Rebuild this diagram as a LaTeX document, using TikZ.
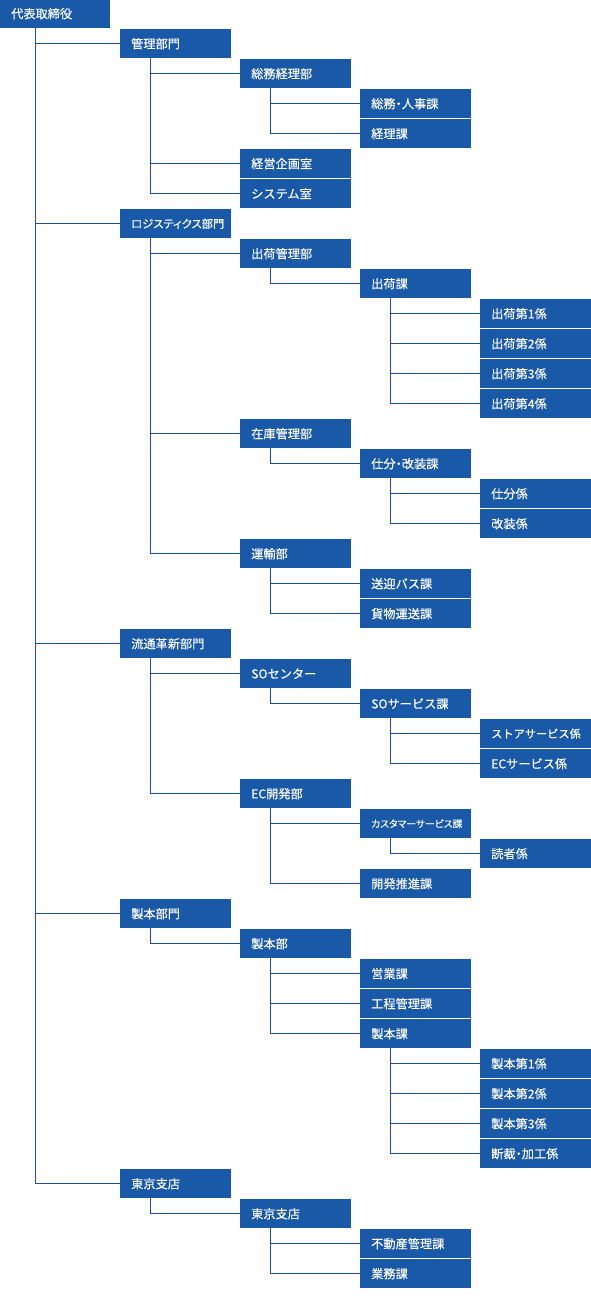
\documentclass[tikz,border=0pt]{standalone}
\usepackage{fontspec}
\newfontfamily\jpfont[FakeBold=0.35]{Noto Sans CJK JP}
\newfontfamily\jppalt[FakeBold=0.35,RawFeature=+palt]{Noto Sans CJK JP}
\definecolor{boxc}{HTML}{1A59A7}
\definecolor{linec}{HTML}{1F4F98}
\newcommand\boxtext[2][89pt]{\makebox[#1][l]{#2}}
\begin{document}
\begin{tikzpicture}[x=1pt,y=-1pt,
  box/.style={fill=boxc,text=white,anchor=north west,
    minimum width=111pt,minimum height=29pt,inner xsep=11pt,inner ysep=0pt,
    font=\jpfont\fontsize{12.2}{14}\selectfont,
    text height=9.3pt,text depth=0pt},
  boxA/.style={box,minimum width=110pt},
  smallA/.style={font=\jppalt\fontsize{11.3}{13}\selectfont,text height=8.6pt},
  smallB/.style={font=\jppalt\fontsize{9.8}{12}\selectfont,text height=7.5pt},
  smallC/.style={font=\jpfont\fontsize{11.2}{13}\selectfont,text height=8.5pt},
  conn/.style={draw=linec,line width=1pt}]
\useasboundingbox (0,0) rectangle (591,1298);
% boxes
\node[boxA] (n0) at (0,-1) {\boxtext[88pt]{代表取締役}};
\node[box] (n1) at (120,29) {\boxtext{管理部門}};
\node[box] (n2) at (240,59) {\boxtext{総務経理部}};
\node[box] (n3) at (360,89) {\boxtext{総務\kern-3pt・\kern-3pt人事課}};
\node[box] (n4) at (360,119) {\boxtext{経理課}};
\node[box] (n5) at (240,149) {\boxtext{経営企画室}};
\node[box] (n6) at (240,179) {\boxtext{システム室}};
\node[box,smallA] (n7) at (120,209) {\boxtext{ロジスティクス部門}};
\node[box] (n8) at (240,239) {\boxtext{出荷管理部}};
\node[box] (n9) at (360,269) {\boxtext{出荷課}};
\node[box] (n10) at (480,299) {\boxtext{出荷第1係}};
\node[box] (n11) at (480,329) {\boxtext{出荷第2係}};
\node[box] (n12) at (480,359) {\boxtext{出荷第3係}};
\node[box] (n13) at (480,389) {\boxtext{出荷第4係}};
\node[box] (n14) at (240,419) {\boxtext{在庫管理部}};
\node[box] (n15) at (360,449) {\boxtext{仕分\kern-3pt・\kern-3pt改装課}};
\node[box] (n16) at (480,479) {\boxtext{仕分係}};
\node[box] (n17) at (480,509) {\boxtext{改装係}};
\node[box] (n18) at (240,539) {\boxtext{運輸部}};
\node[box] (n19) at (360,569) {\boxtext{送迎バス課}};
\node[box] (n20) at (360,599) {\boxtext{貨物運送課}};
\node[box] (n21) at (120,629) {\boxtext{流通革新部門}};
\node[box] (n22) at (240,659) {\boxtext{SOセンター}};
\node[box] (n23) at (360,689) {\boxtext{SOサービス課}};
\node[box,smallC] (n24) at (480,719) {\boxtext{ストアサービス係}};
\node[box] (n25) at (480,749) {\boxtext{ECサービス係}};
\node[box] (n26) at (240,779) {\boxtext{EC開発部}};
\node[box,smallB] (n27) at (360,809) {\boxtext{カスタマーサービス課}};
\node[box] (n28) at (480,839) {\boxtext{読者係}};
\node[box] (n29) at (360,869) {\boxtext{開発推進課}};
\node[box] (n30) at (120,899) {\boxtext{製本部門}};
\node[box] (n31) at (240,929) {\boxtext{製本部}};
\node[box] (n32) at (360,959) {\boxtext{営業課}};
\node[box] (n33) at (360,989) {\boxtext{工程管理課}};
\node[box] (n34) at (360,1019) {\boxtext{製本課}};
\node[box] (n35) at (480,1049) {\boxtext{製本第1係}};
\node[box] (n36) at (480,1079) {\boxtext{製本第2係}};
\node[box] (n37) at (480,1109) {\boxtext{製本第3係}};
\node[box] (n38) at (480,1139) {\boxtext{断裁\kern-3pt・\kern-3pt加工係}};
\node[box] (n39) at (120,1169) {\boxtext{東京支店}};
\node[box] (n40) at (240,1199) {\boxtext{東京支店}};
\node[box] (n41) at (360,1229) {\boxtext{不動産管理課}};
\node[box] (n42) at (360,1259) {\boxtext{業務課}};
% connectors
\foreach \c in {n1,n7,n21,n30,n39} \draw[conn] ([xshift=35pt]n0.south west) |- (\c.west);
\foreach \c in {n2,n5,n6} \draw[conn] ([xshift=30pt]n1.south west) |- (\c.west);
\foreach \c in {n3,n4} \draw[conn] ([xshift=30pt]n2.south west) |- (\c.west);
\foreach \c in {n8,n14,n18} \draw[conn] ([xshift=30pt]n7.south west) |- (\c.west);
\draw[conn] ([xshift=30pt]n8.south west) |- (n9.west);
\foreach \c in {n10,n11,n12,n13} \draw[conn] ([xshift=30pt]n9.south west) |- (\c.west);
\draw[conn] ([xshift=30pt]n14.south west) |- (n15.west);
\foreach \c in {n16,n17} \draw[conn] ([xshift=30pt]n15.south west) |- (\c.west);
\foreach \c in {n19,n20} \draw[conn] ([xshift=30pt]n18.south west) |- (\c.west);
\foreach \c in {n22,n26} \draw[conn] ([xshift=30pt]n21.south west) |- (\c.west);
\draw[conn] ([xshift=30pt]n22.south west) |- (n23.west);
\foreach \c in {n24,n25} \draw[conn] ([xshift=30pt]n23.south west) |- (\c.west);
\foreach \c in {n27,n29} \draw[conn] ([xshift=30pt]n26.south west) |- (\c.west);
\draw[conn] ([xshift=30pt]n27.south west) |- (n28.west);
\draw[conn] ([xshift=30pt]n30.south west) |- (n31.west);
\foreach \c in {n32,n33,n34} \draw[conn] ([xshift=30pt]n31.south west) |- (\c.west);
\foreach \c in {n35,n36,n37,n38} \draw[conn] ([xshift=30pt]n34.south west) |- (\c.west);
\draw[conn] ([xshift=30pt]n39.south west) |- (n40.west);
\foreach \c in {n41,n42} \draw[conn] ([xshift=30pt]n40.south west) |- (\c.west);
\end{tikzpicture}
\end{document}
